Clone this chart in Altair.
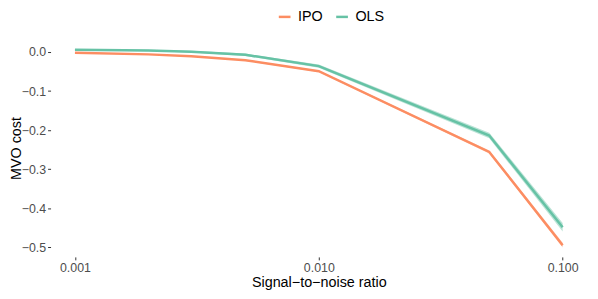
import altair as alt
import pandas as pd

snr = [0.001, 0.002, 0.003, 0.005, 0.01, 0.05, 0.1]
ipo_mean = [-0.002, -0.006, -0.011, -0.021, -0.049, -0.256, -0.495]
ipo_half = [0.001, 0.001, 0.001, 0.0015, 0.002, 0.004, 0.006]
ols_mean = [0.006, 0.004, 0.001, -0.007, -0.036, -0.214, -0.449]
ols_half = [0.002, 0.002, 0.002, 0.003, 0.004, 0.007, 0.011]

series = ["IPO", "OLS"]
colors = ["#FC8D62", "#66C2A5"]

rows = []
for name, mean, half in [("IPO", ipo_mean, ipo_half), ("OLS", ols_mean, ols_half)]:
    for x, m, h in zip(snr, mean, half):
        rows.append({"snr": x, "cost": m, "lo": m - h, "hi": m + h, "model": name})
df = pd.DataFrame(rows)

FONT = "Liberation Sans"

xscale = alt.Scale(type="log", domain=[10 ** -3.1, 10 ** -0.9], nice=False, zero=False)
yscale = alt.Scale(domain=[-0.525, 0.033], nice=False, zero=False)
cscale = alt.Scale(domain=series, range=colors)

xaxis = alt.Axis(
    values=[0.001, 0.01, 0.1], format=".3f", title="Signal\u2212to\u2212noise ratio",
    grid=False, domain=False, tickSize=3, tickColor="#333333", tickWidth=1,
    labelPadding=2, labelFontSize=12.5, labelColor="#4D4D4D", labelFont=FONT,
    titleFont=FONT, titleFontSize=14.5, titleColor="#000000", titleFontWeight="normal",
    titleY=26, titleBaseline="middle",
)
yaxis = alt.Axis(
    values=[0.0, -0.1, -0.2, -0.3, -0.4, -0.5],
    labelExpr="replace(format(datum.value, '.1f'), '-', '\u2212')",
    title="MVO cost", grid=False, domain=False, tickSize=3, tickColor="#333333",
    tickWidth=1, labelPadding=2, labelFontSize=12.5, labelColor="#4D4D4D", labelFont=FONT,
    titleFont=FONT, titleFontSize=14.5, titleColor="#000000", titleFontWeight="normal",
    titleX=-34.5, titleBaseline="middle",
)

base = alt.Chart(df)

band = base.mark_area(opacity=0.45).encode(
    x=alt.X("snr:Q", scale=xscale, axis=xaxis),
    y=alt.Y("lo:Q", scale=yscale, axis=yaxis),
    y2="hi:Q",
    fill=alt.Fill("model:N", scale=cscale, legend=None),
    detail="model:N",
)

line = base.mark_line(strokeWidth=2.5).encode(
    x=alt.X("snr:Q", scale=xscale, axis=xaxis),
    y=alt.Y("cost:Q", scale=yscale, axis=yaxis),
    color=alt.Color(
        "model:N", scale=cscale,
        legend=alt.Legend(
            title=None, orient="none", legendX=229, legendY=-30, direction="horizontal",
            symbolType="stroke", symbolSize=140, symbolStrokeWidth=2.5,
            labelFontSize=14.5, labelFont=FONT, labelColor="#000000", labelOffset=6,
            columnPadding=8, padding=0,
        ),
    ),
)

chart = (
    alt.layer(band, line)
    .resolve_scale(fill="independent", color="independent")
    .properties(
        width=542, height=220,
        autosize=alt.AutoSizeParams(type="none"),
        padding={"left": 43, "top": 30, "right": 3, "bottom": 38},
        background="white",
    )
    .configure_view(stroke=None)
)

chart.save("out.html", embed_options={"renderer": "svg", "actions": False})
